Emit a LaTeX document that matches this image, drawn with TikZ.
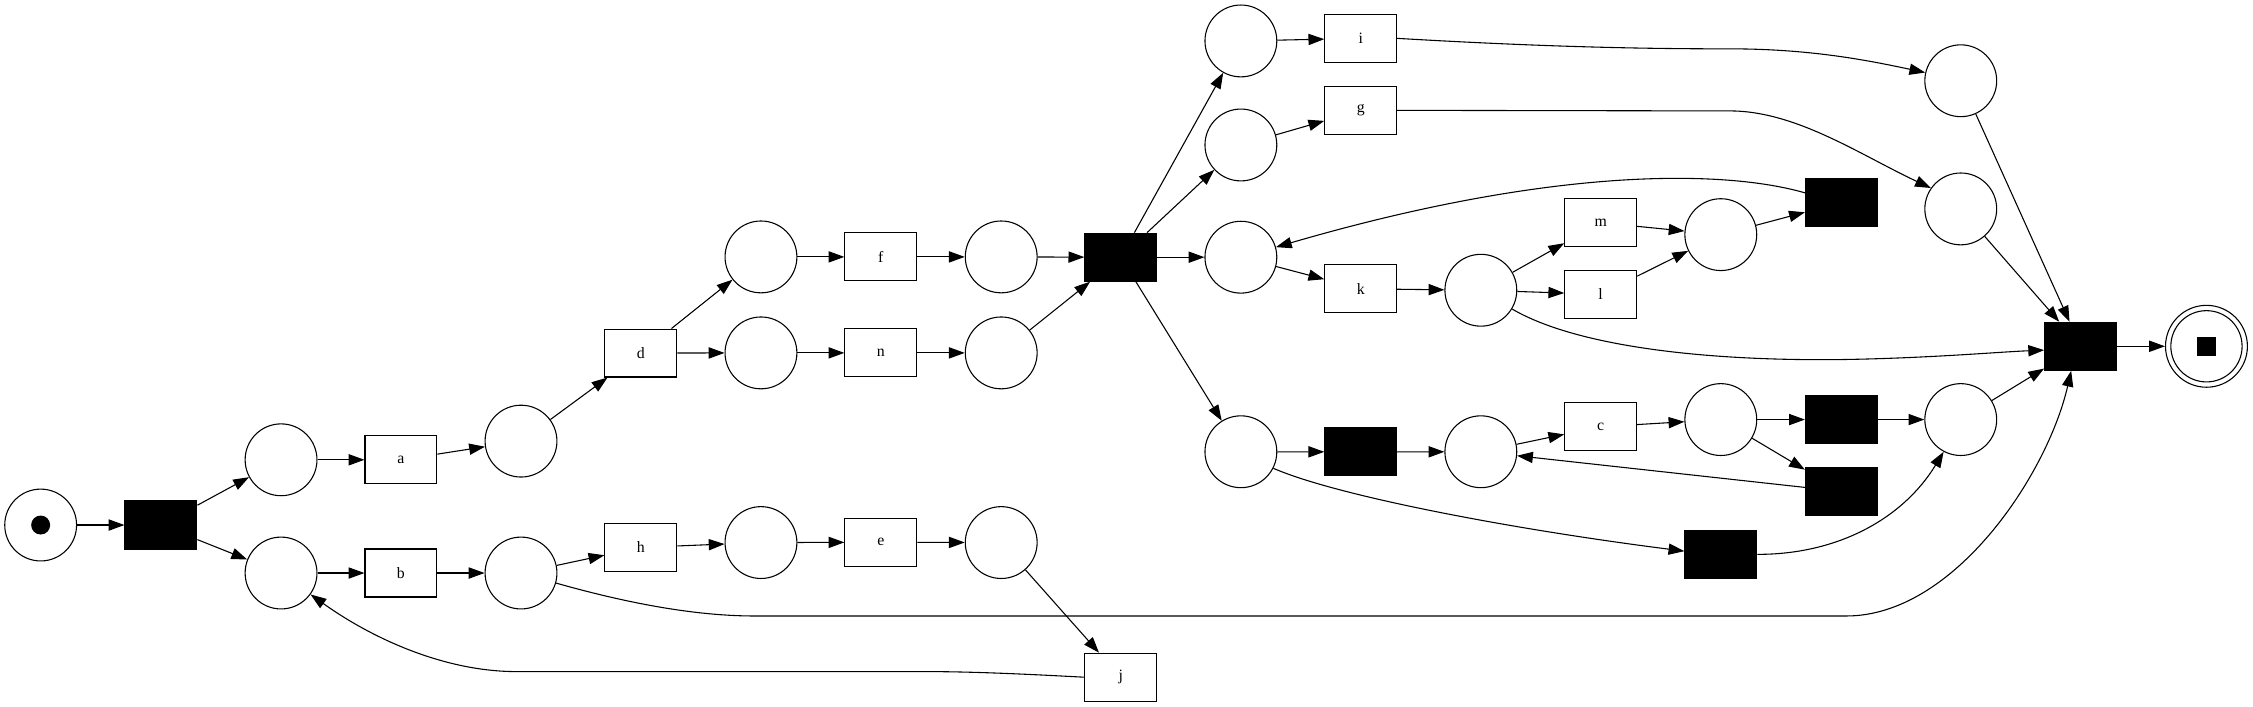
\documentclass[tikz,border=0pt]{standalone}
\usepackage{fontspec}
\setmainfont{Liberation Serif}
\usetikzlibrary{arrows.meta}
\begin{document}
\begin{tikzpicture}[x=1pt,y=-1pt,
  place/.style={circle,draw,line width=0.75pt,minimum size=50pt,inner sep=0pt},
  trans/.style={rectangle,draw,line width=0.75pt,minimum width=50pt,minimum height=33.4pt,inner sep=0pt,font=\fontsize{11}{11}\selectfont},
  silent/.style={trans,fill=black},
  arc/.style={-{Triangle[length=11pt,width=7.8pt]},line width=0.75pt},
]
\useasboundingbox (0,0) rectangle (1568,492);
% places
\node[place] (p0) at (28.3,365.4) {};
\node[place] (p1) at (195.6,320) {};
\node[place] (p2) at (195.6,398.8) {};
\node[place] (p3) at (362.6,307) {};
\node[place] (p4) at (362.6,398.8) {};
\node[place] (p5) at (529.6,178.8) {};
\node[place] (p6) at (529.6,245.6) {};
\node[place] (p7) at (529.6,377.6) {};
\node[place] (p8) at (696.8,178.8) {};
\node[place] (p9) at (696.8,245.6) {};
\node[place] (p10) at (696.8,377.6) {};
\node[place] (p11) at (863.6,28.5) {};
\node[place] (p12) at (863.6,100.9) {};
\node[place] (p13) at (863.6,179) {};
\node[place] (p16) at (863.6,314.4) {};
\node[place] (p14) at (1030.6,202) {};
\node[place] (p17) at (1030.6,314.4) {};
\node[place] (p15) at (1197.6,163.3) {};
\node[place] (p18) at (1197.6,292) {};
\node[place] (pi) at (1364.6,56.2) {};
\node[place] (pg) at (1364.6,145.4) {};
\node[place] (p19) at (1364.6,292) {};
\node[place,minimum size=57pt] (pend) at (1535.6,241) {};
\draw[line width=0.75pt] (pend) circle (24.8pt);
\fill ([shift={(-6.6,-6.6)}]pend.center) rectangle ([shift={(6.6,6.6)}]pend.center);
\fill (p0.center) circle (6.6pt);
% transitions
\node[silent] (t0) at (112,365.4) {};
\node[trans] (ta) at (279,320) {a};
\node[trans] (tb) at (279,398.8) {b};
\node[trans] (td) at (446,245.7) {d};
\node[trans] (th) at (446,381) {h};
\node[trans] (tf) at (613,178.8) {f};
\node[trans] (tn) at (613,245.6) {n};
\node[trans] (te) at (613,377.4) {e};
\node[trans] (tj) at (780,471.3) {j};
\node[silent] (t1) at (780,179) {};
\node[trans] (ti) at (947,26.7) {i};
\node[trans] (tg) at (947,76.8) {g};
\node[trans] (tk) at (947,201) {k};
\node[silent] (t2) at (947,314.5) {};
\node[trans] (tm) at (1114,155) {m};
\node[trans] (tl) at (1114,204.8) {l};
\node[trans] (tc) at (1114,297) {c};
\node[silent] (t5) at (1197.6,385.8) {};
\node[silent] (t3) at (1281.5,141) {};
\node[silent] (t4) at (1281.5,292) {};
\node[silent] (t6) at (1281.5,342) {};
\node[silent] (tend) at (1448,241) {};
% arcs
\draw[arc] (p0) -- (t0);
\draw[arc] (t0) -- (p1);
\draw[arc] (t0) -- (p2);
\draw[arc] (p1) -- (ta);
\draw[arc] (p2) -- (tb);
\draw[arc] (ta) -- (p3);
\draw[arc] (tb) -- (p4);
\draw[arc] (p3) -- (td);
\draw[arc] (p4) -- (th);
\draw[arc] (td) -- (p5);
\draw[arc] (td) -- (p6);
\draw[arc] (th) -- (p7);
\draw[arc] (p5) -- (tf);
\draw[arc] (p6) -- (tn);
\draw[arc] (p7) -- (te);
\draw[arc] (tf) -- (p8);
\draw[arc] (tn) -- (p9);
\draw[arc] (te) -- (p10);
\draw[arc] (p8) -- (t1);
\draw[arc] (p9) -- (t1);
\draw[arc] (p10) -- (tj);
\draw[arc] (tj.west) .. controls (720,469.5) and (680,467.4) .. (644,467.4) -- (359.5,467.4) .. controls (310,467.4) and (260,445) .. (p2.-36);
\draw[arc] (p4.-16) .. controls (430,418) and (480,428.7) .. (525,428.7) -- (1285,428.7) .. controls (1360,428.7) and (1425,330) .. (tend.249);
\draw[arc] (t1) -- (p11);
\draw[arc] (t1) -- (p12);
\draw[arc] (t1) -- (p13);
\draw[arc] (t1) -- (p16);
\draw[arc] (p11) -- (ti);
\draw[arc] (p12) -- (tg);
\draw[arc] (p13) -- (tk);
\draw[arc] (ti.east) .. controls (1080,33) and (1150,34) .. (1204,34) .. controls (1260,34) and (1300,42) .. (pi.167);
\draw[arc] (tg.east) -- (1204,77.2) .. controls (1250,77.2) and (1295,108) .. (pg.145);
\draw[arc] (tk) -- (p14);
\draw[arc] (p14) -- (tm);
\draw[arc] (p14) -- (tl);
\draw[arc] (p14.-31) .. controls (1095,240) and (1180,251) .. (1277,250.3) .. controls (1340,249.5) and (1390,245) .. (tend.186);
\draw[arc] (tm) -- (p15);
\draw[arc] (tl) -- (p15);
\draw[arc] (p15) -- (t3);
\draw[arc] (t3.165) .. controls (1200,118) and (1080,116) .. (p13.16);
\draw[arc] (p16) -- (t2);
\draw[arc] (p16.-27) .. controls (930,345) and (1050,368) .. (t5.175);
\draw[arc] (t2) -- (p17);
\draw[arc] (p17) -- (tc);
\draw[arc] (tc) -- (p18);
\draw[arc] (p18) -- (t4);
\draw[arc] (p18) -- (t6);
\draw[arc] (t4) -- (p19);
\draw[arc] (t6) -- (p17);
\draw[arc] (t5.east) .. controls (1280,386) and (1325,360) .. (p19.242);
\draw[arc] (pi) -- (tend);
\draw[arc] (pg) -- (tend);
\draw[arc] (p19) -- (tend);
\draw[arc] (tend) -- (pend);
\end{tikzpicture}
\end{document}
